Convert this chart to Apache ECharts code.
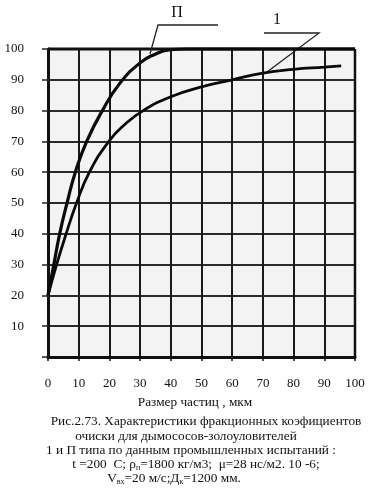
<!DOCTYPE html>
<html>
<head>
<meta charset="utf-8">
<script src="https://cdn.jsdelivr.net/npm/echarts@6/dist/echarts.min.js"></script>
<style>
  html, body { margin: 0; padding: 0; background: #ffffff; }
  #chart { width: 368px; height: 491px; }
</style>
</head>
<body>
<div id="chart"></div>
<script>
// ---- data ----
var xTicks = [0, 10, 20, 30, 40, 50, 60, 70, 80, 90, 100];
var yTicks = [10, 20, 30, 40, 50, 60, 70, 80, 90, 100];

// curve П (type P dust collector)
var curvePx = [0, 1.9, 3.8, 6.2, 8.9, 12.6, 17.7, 23.5, 30, 34.2, 40, 45, 60, 80, 100];
var curvePy = [20, 30, 40, 50, 60, 70, 80, 89, 95.5, 98, 99.8, 100, 100, 100, 100];

// curve 1 (type 1 dust collector)
var curve1x = [0, 2.8, 5.9, 9.3, 13.5, 19.8, 25, 31, 40, 50, 60, 70, 80, 90, 95.5];
var curve1y = [20, 30, 40, 50, 60, 70, 75.5, 80, 84.5, 87.7, 90, 92.2, 93.4, 94.1, 94.5];

var xAxisTitle = 'Размер частиц , мкм';

function zip(xs, ys) { return xs.map(function (x, i) { return [x, ys[i]]; }); }

var chart = echarts.init(document.getElementById('chart'), null, { renderer: 'canvas' });
var serif = '"Liberation Serif", "DejaVu Serif", serif';

var option = {
  backgroundColor: '#ffffff',
  animation: false,
  grid: {
    left: 48, right: 13, top: 49, bottom: 134,
    show: true, backgroundColor: '#f3f3f3', borderWidth: 0
  },
  xAxis: {
    type: 'value', min: 0, max: 100, interval: 10,
    axisLine: { show: true, onZero: false, lineStyle: { color: '#111', width: 3 } },
    axisTick: { show: true, length: 4, lineStyle: { color: '#111', width: 1.5 } },
    splitLine: { show: true, lineStyle: { color: '#1a1a1a', width: 2 } },
    axisLabel: {
      margin: 20, color: '#111', fontFamily: serif, fontSize: 13,
      formatter: function (v) { return xTicks.indexOf(v) >= 0 ? String(v) : ''; }
    }
  },
  yAxis: {
    type: 'value', min: 0, max: 100, interval: 10,
    axisLine: { show: true, onZero: false, lineStyle: { color: '#111', width: 3 } },
    axisTick: { show: true, length: 6, lineStyle: { color: '#222', width: 1.5 } },
    splitLine: { show: true, lineStyle: { color: '#2a2a2a', width: 1.8 } },
    axisLabel: {
      margin: 24, color: '#111', fontFamily: serif, fontSize: 13,
      formatter: function (v) { return yTicks.indexOf(v) >= 0 ? String(v) : ''; }
    }
  },
  series: [
    {
      name: 'П', type: 'line', data: zip(curvePx, curvePy),
      smooth: 0.5, showSymbol: false, clip: false,
      lineStyle: { color: '#0a0a0a', width: 3.2 }
    },
    {
      name: '1', type: 'line', data: zip(curve1x, curve1y),
      smooth: 0.5, showSymbol: false, clip: false,
      lineStyle: { color: '#0a0a0a', width: 2.8 }
    }
  ]
};
chart.setOption(option);

var tl = chart.convertToPixel({ gridIndex: 0 }, [0, 100]);
var br = chart.convertToPixel({ gridIndex: 0 }, [100, 0]);

var captionStyle = { fontFamily: serif, fontSize: 13.3, fill: '#111' };
function cap(x, y, text, rich) {
  return {
    type: 'text', x: x, y: y,
    style: Object.assign({ text: text, textAlign: 'center', textVerticalAlign: 'middle', rich: rich || {} }, captionStyle)
  };
}
var subRich = {
  s: { fontFamily: serif, fontSize: 8, fill: '#111', padding: [6, 0, 0, 0] },
  n: { fontFamily: serif, fontSize: 13.3, fill: '#111' }
};

chart.setOption({
  graphic: [
    { type: 'line', shape: { x1: tl[0], y1: tl[1], x2: br[0], y2: tl[1] }, style: { stroke: '#111', lineWidth: 3 } },
    { type: 'line', shape: { x1: br[0], y1: tl[1], x2: br[0], y2: br[1] }, style: { stroke: '#111', lineWidth: 2.5 } },
    { type: 'text', x: 177, y: 13, style: { text: 'П', fontFamily: serif, fontSize: 16, fill: '#111', textAlign: 'center', textVerticalAlign: 'middle' } },
    { type: 'polyline', shape: { points: [[218, 25], [158, 25], [150, 54]] }, style: { stroke: '#222', lineWidth: 1.3, fill: null } },
    { type: 'text', x: 277, y: 20, style: { text: '1', fontFamily: serif, fontSize: 16, fill: '#111', textAlign: 'center', textVerticalAlign: 'middle' } },
    { type: 'polyline', shape: { points: [[264, 33], [319, 33], [267, 72]] }, style: { stroke: '#222', lineWidth: 1.3, fill: null } },
    cap(195, 403, xAxisTitle),
    cap(206, 422, 'Рис.2.73. Характеристики фракционных коэфициентов'),
    cap(186, 437, 'очиски для дымососов-золоуловителей'),
    cap(191, 451, '1 и П типа по данным промышленных испытаний :'),
    cap(196, 465, '{n|t =200  С; ρ}{s|п}{n|=1800 кг/м3;  μ=28 нс/м2. 10 -6;}', subRich),
    cap(174, 479, '{n|V}{s|вх}{n|=20 м/с;Д}{s|к}{n|=1200 мм.}', subRich)
  ]
});
</script>
</body>
</html>
